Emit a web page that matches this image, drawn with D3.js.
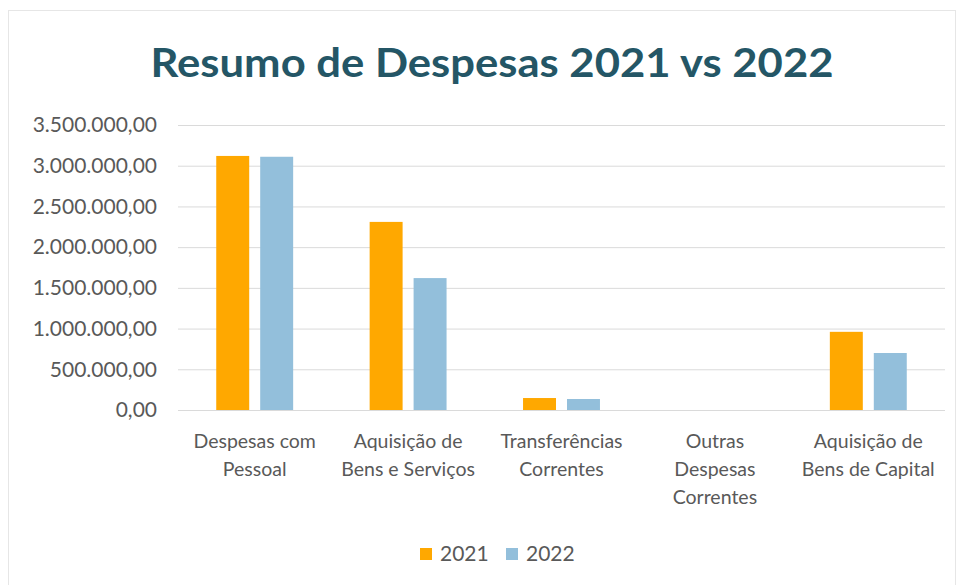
<!DOCTYPE html>
<html>
<head>
<meta charset="utf-8">
<script src="https://cdn.jsdelivr.net/npm/d3@7"></script>
<style>
  body { margin: 0; background: #fff; }
  text { font-family: Lato, "Open Sans", sans-serif; }
</style>
</head>
<body>
<svg id="chart" width="959" height="585"></svg>
<script>
"use strict";

const categories = [
    ["Despesas com", "Pessoal"],
    ["Aquisição de", "Bens e Serviços"],
    ["Transferências", "Correntes"],
    ["Outras", "Despesas", "Correntes"],
    ["Aquisição de", "Bens de Capital"]
];
const years = ["2021", "2022"];
const values2021 = [3120000, 2310000, 147000, 0, 960000];
const values2022 = [3110000, 1620000, 135000, 0, 700000];
const yTicks = [0, 500000, 1000000, 1500000, 2000000, 2500000, 3000000, 3500000];
const colors = ["#FFA800", "#93BFDB"];

const svg = d3.select("#chart");
const margin = { left: 178, right: 14, top: 125, bottom: 175 };
const width = 959, height = 585;

// moldura clara
svg.append("rect")
    .attr("x", 8.5).attr("y", 10.5)
    .attr("width", width - 12).attr("height", height - 8)
    .attr("fill", "#fff")
    .attr("stroke", "#e6e6e6");

svg.append("text")
    .attr("x", 492).attr("y", 77)
    .attr("text-anchor", "middle")
    .attr("font-size", 40)
    .attr("font-weight", "bold")
    .attr("fill", "#245666")
    .attr("textLength", 683)
    .attr("lengthAdjust", "spacingAndGlyphs")
    .text("Resumo de Despesas 2021 vs 2022");

const x = d3.scaleBand()
    .domain(d3.range(categories.length))
    .range([margin.left, width - margin.right]);
const xInner = d3.scaleBand()
    .domain(years)
    .range([0, x.bandwidth()])
    .paddingInner(0.25)
    .paddingOuter(0.87);
const y = d3.scaleLinear()
    .domain([0, 3500000])
    .range([height - margin.bottom, margin.top]);

const fmt = (v) => d3.formatLocale({
    decimal: ",", thousands: ".", grouping: [3], currency: ["", ""]
}).format(",.2f")(v);

const yAxis = svg.append("g")
    .attr("transform", `translate(${margin.left},0)`)
    .call(d3.axisLeft(y).tickValues(yTicks).tickFormat(fmt)
        .tickSize(-(width - margin.left - margin.right)).tickPadding(21));
yAxis.select(".domain").remove();
yAxis.selectAll(".tick line").attr("stroke", "#dadada");
yAxis.selectAll(".tick text")
    .attr("font-size", 21).attr("fill", "#595959");

const groups = svg.append("g").selectAll("g")
    .data(categories)
    .join("g")
    .attr("transform", (d, i) => `translate(${x(i)},0)`);

const series = [values2021, values2022];
groups.selectAll("rect")
    .data((d, i) => years.map((yr, k) => ({ yr, k, v: series[k][i] })))
    .join("rect")
    .attr("x", (d) => xInner(d.yr))
    .attr("width", xInner.bandwidth())
    .attr("y", (d) => y(d.v))
    .attr("height", (d) => y(0) - y(d.v))
    .attr("fill", (d) => colors[d.k]);

groups.append("text")
    .attr("x", x.bandwidth() / 2)
    .attr("y", 448)
    .attr("text-anchor", "middle")
    .attr("font-size", 19.5)
    .attr("fill", "#595959")
    .selectAll("tspan")
    .data((d) => d)
    .join("tspan")
    .attr("x", x.bandwidth() / 2)
    .attr("dy", (d, i) => (i === 0 ? 0 : 28))
    .text((d) => d);

const legend = svg.append("g").attr("transform", "translate(420,561)");
const legendX = [0, 86];
years.forEach((yr, k) => {
    legend.append("rect")
        .attr("x", legendX[k]).attr("y", -13)
        .attr("width", 12).attr("height", 12)
        .attr("fill", colors[k]);
    legend.append("text")
        .attr("x", legendX[k] + 20).attr("y", 0)
        .attr("font-size", 21)
        .attr("fill", "#595959")
        .text(yr);
});
</script>
</body>
</html>
